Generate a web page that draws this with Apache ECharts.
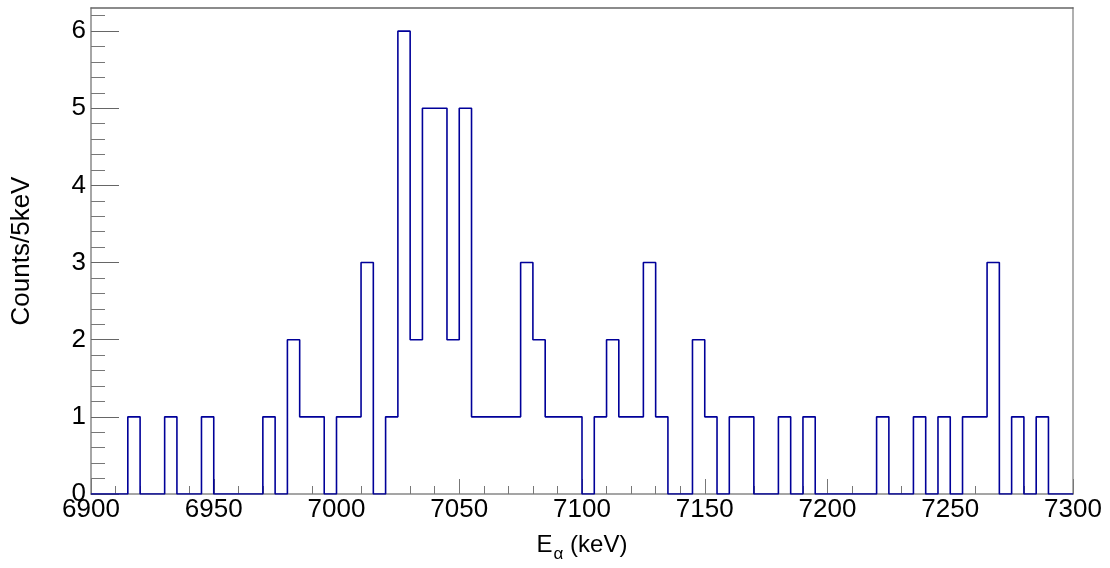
<!DOCTYPE html>
<html>
<head>
<meta charset="utf-8">
<script src="https://cdn.jsdelivr.net/npm/echarts@6/dist/echarts.min.js"></script>
<style>
html,body{margin:0;padding:0;background:#fff;}
#c{width:1110px;height:568px;}
</style>
</head>
<body>
<div id="c"></div>
<script>
// Bin low edges (keV), 5 keV bins, last entry is the upper edge of the final bin
var binEdges = [6900,6905,6910,6915,6920,6925,6930,6935,6940,6945,
  6950,6955,6960,6965,6970,6975,6980,6985,6990,6995,
  7000,7005,7010,7015,7020,7025,7030,7035,7040,7045,
  7050,7055,7060,7065,7070,7075,7080,7085,7090,7095,
  7100,7105,7110,7115,7120,7125,7130,7135,7140,7145,
  7150,7155,7160,7165,7170,7175,7180,7185,7190,7195,
  7200,7205,7210,7215,7220,7225,7230,7235,7240,7245,
  7250,7255,7260,7265,7270,7275,7280,7285,7290,7295,7300];
// Counts per bin
var counts = [0,0,0,1,0,0,1,0,0,1,
  0,0,0,0,1,0,2,1,1,0,
  1,1,3,0,1,6,2,5,5,2,
  5,1,1,1,1,3,2,1,1,1,
  0,1,2,1,1,3,1,0,0,2,
  1,0,1,1,0,0,1,0,1,0,
  0,0,0,0,1,0,0,1,0,1,
  0,1,1,3,0,1,0,1,0,0];
var yTickValues = [0,1,2,3,4,5,6];
var xTickLabels = [6900,6950,7000,7050,7100,7150,7200,7250,7300];
var xTitle = 'E_α (keV)';
var yTitle = 'Counts/5keV';

var stepData = [];
for (var i = 0; i < counts.length; i++) stepData.push([binEdges[i], counts[i]]);
stepData.push([binEdges[binEdges.length - 1], counts[counts.length - 1]]);

var FONT = '"Liberation Sans", Arial, Helvetica, sans-serif';
var chart = echarts.init(document.getElementById('c'), null, {renderer: 'canvas'});
chart.setOption({
  animation: false,
  backgroundColor: '#ffffff',
  grid: {left: 91, right: 37, top: 8, bottom: 69, containLabel: false, show: false},
  xAxis: [{
    type: 'value', min: 6900, max: 7300, interval: 50,
    position: 'bottom',
    name: '{a|E}{b|α}{a| (keV)}',
    nameLocation: 'middle', nameGap: 33,
    nameTextStyle: {
      fontFamily: FONT, color: '#000',
      rich: {
        a: {fontFamily: FONT, fontSize: 24, color: '#000', lineHeight: 30, verticalAlign: 'bottom'},
        b: {fontFamily: FONT, fontSize: 17, color: '#000', lineHeight: 30, verticalAlign: 'bottom', padding: [0, 0, -6, 1]}
      }
    },
    axisLine: {show: true, onZero: false, lineStyle: {color: '#888', width: 1.5}},
    axisTick: {show: true, inside: true, length: 15, lineStyle: {color: '#777', width: 1}},
    minorTick: {show: true, splitNumber: 5, length: 8, lineStyle: {color: '#777', width: 1}},
    splitLine: {show: false},
    axisLabel: {
      show: true, margin: 3, fontFamily: FONT, fontSize: 26, color: '#000',
      showMinLabel: true, showMaxLabel: true,
      formatter: function (v) { return xTickLabels.indexOf(v) >= 0 ? String(v) : ''; }
    }
  }, {
    type: 'value', min: 6900, max: 7300, position: 'top',
    axisLine: {show: true, onZero: false, lineStyle: {color: '#666', width: 1.5}},
    axisTick: {show: false}, axisLabel: {show: false}, splitLine: {show: false}
  }],
  yAxis: [{
    type: 'value', min: 0, max: 6.3, interval: 1,
    position: 'left',
    name: yTitle, nameLocation: 'middle', nameGap: 56,
    nameTextStyle: {fontFamily: FONT, fontSize: 26, color: '#000'},
    axisLine: {show: true, onZero: false, lineStyle: {color: '#888', width: 1.5}},
    axisTick: {show: true, inside: true, length: 28, lineStyle: {color: '#666', width: 1},
      customValues: yTickValues},
    minorTick: {show: true, splitNumber: 5, length: 14, lineStyle: {color: '#777', width: 1}},
    splitLine: {show: false},
    axisLabel: {
      show: true, margin: 5, fontFamily: FONT, fontSize: 26, color: '#000',
      customValues: yTickValues,
      formatter: function (v) { return yTickValues.indexOf(v) >= 0 ? String(v) : ''; }
    }
  }, {
    type: 'value', min: 0, max: 6.3, position: 'right',
    axisLine: {show: true, onZero: false, lineStyle: {color: '#b0b0b0', width: 2}},
    axisTick: {show: false}, axisLabel: {show: false}, splitLine: {show: false}
  }],
  series: [{
    type: 'line', step: 'end', data: stepData,
    xAxisIndex: 0, yAxisIndex: 0,
    showSymbol: false, symbol: 'none',
    lineStyle: {color: '#000099', width: 1.6},
    clip: true, z: 3
  }]
});
</script>
</body>
</html>
